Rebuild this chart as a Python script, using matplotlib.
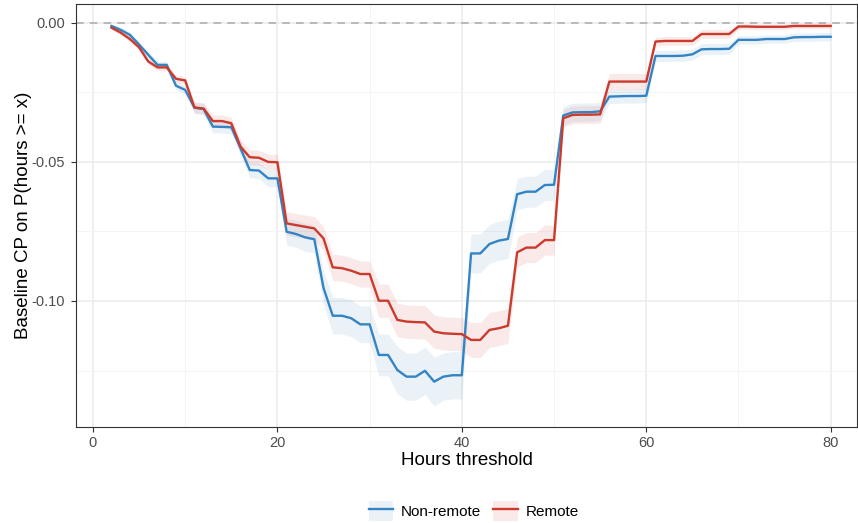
import numpy as np
import matplotlib
matplotlib.use("Agg")
import matplotlib.pyplot as plt
from matplotlib.patches import Patch
from matplotlib.lines import Line2D

plt.rcParams["font.family"] = ["Liberation Sans", "DejaVu Sans"]

hours = list(range(2, 81))

# baseline CP estimates, non-remote workers
nonremote = [
    -0.0011, -0.0025, -0.0043, -0.0078, -0.0115, -0.0151, -0.0151, -0.0226, -0.0241,
    -0.0305, -0.0310, -0.0373, -0.0374, -0.0375, -0.0451, -0.0529, -0.0531, -0.0559, -0.0559,
    -0.0751, -0.0759, -0.0771, -0.0778, -0.0953, -0.1053, -0.1053, -0.1062, -0.1084, -0.1084,
    -0.1194, -0.1194, -0.1248, -0.1272, -0.1272, -0.1251, -0.1290, -0.1272, -0.1267, -0.1267,
    -0.0829, -0.0829, -0.0795, -0.0783, -0.0777, -0.0616, -0.0607, -0.0607, -0.0583, -0.0582,
    -0.0333, -0.0322, -0.0321, -0.0321, -0.0318, -0.0265, -0.0264, -0.0263, -0.0263, -0.0262,
    -0.0119, -0.0119, -0.0119, -0.0118, -0.0113, -0.0095, -0.0094, -0.0094, -0.0093,
    -0.0061, -0.0061, -0.0061, -0.0058, -0.0058, -0.0058, -0.0052, -0.0051, -0.0051, -0.0050,
    -0.0050,
]
nonremote_ci = [
    0.0008, 0.0009, 0.0010, 0.0011, 0.0012, 0.0013, 0.0013, 0.0015, 0.0015,
    0.0020, 0.0020, 0.0022, 0.0022, 0.0023, 0.0026, 0.0028, 0.0028, 0.0030, 0.0030,
    0.0048, 0.0048, 0.0050, 0.0050, 0.0060, 0.0066, 0.0066, 0.0066, 0.0066, 0.0066,
    0.0075, 0.0075, 0.0085, 0.0085, 0.0085, 0.0085, 0.0088, 0.0085, 0.0085, 0.0085,
    0.0070, 0.0070, 0.0070, 0.0070, 0.0070, 0.0056, 0.0056, 0.0056, 0.0056, 0.0056,
    0.0033, 0.0033, 0.0033, 0.0033, 0.0033, 0.0025, 0.0025, 0.0025, 0.0025, 0.0025,
    0.0020, 0.0020, 0.0020, 0.0020, 0.0020, 0.0020, 0.0020, 0.0020, 0.0020,
    0.0015, 0.0015, 0.0015, 0.0015, 0.0015, 0.0015, 0.0015, 0.0015, 0.0015, 0.0015,
    0.0015,
]

# baseline CP estimates, remote workers
remote = [
    -0.0017, -0.0035, -0.0058, -0.0088, -0.0139, -0.0160, -0.0160, -0.0201, -0.0207,
    -0.0304, -0.0308, -0.0353, -0.0353, -0.0361, -0.0445, -0.0483, -0.0485, -0.0500, -0.0501,
    -0.0721, -0.0727, -0.0733, -0.0739, -0.0775, -0.0879, -0.0882, -0.0891, -0.0903, -0.0903,
    -0.0999, -0.0999, -0.1068, -0.1074, -0.1076, -0.1077, -0.1110, -0.1116, -0.1118, -0.1119,
    -0.1140, -0.1140, -0.1104, -0.1098, -0.1089, -0.0825, -0.0808, -0.0808, -0.0781, -0.0781,
    -0.0343, -0.0331, -0.0330, -0.0330, -0.0329, -0.0211, -0.0211, -0.0211, -0.0211, -0.0211,
    -0.0067, -0.0065, -0.0065, -0.0065, -0.0065, -0.0040, -0.0040, -0.0040, -0.0040,
    -0.0013, -0.0013, -0.0014, -0.0014, -0.0014, -0.0014, -0.0011, -0.0011, -0.0011, -0.0011,
    -0.0011,
]
remote_ci = [
    0.0008, 0.0009, 0.0010, 0.0011, 0.0012, 0.0012, 0.0012, 0.0013, 0.0013,
    0.0020, 0.0020, 0.0022, 0.0022, 0.0022, 0.0025, 0.0027, 0.0027, 0.0028, 0.0028,
    0.0042, 0.0042, 0.0042, 0.0042, 0.0042, 0.0047, 0.0047, 0.0047, 0.0047, 0.0047,
    0.0060, 0.0060, 0.0060, 0.0060, 0.0060, 0.0060, 0.0060, 0.0060, 0.0060, 0.0060,
    0.0063, 0.0063, 0.0063, 0.0063, 0.0063, 0.0054, 0.0054, 0.0054, 0.0054, 0.0054,
    0.0032, 0.0032, 0.0032, 0.0032, 0.0032, 0.0029, 0.0029, 0.0029, 0.0029, 0.0029,
    0.0016, 0.0016, 0.0016, 0.0016, 0.0016, 0.0016, 0.0016, 0.0016, 0.0016,
    0.0010, 0.0010, 0.0010, 0.0010, 0.0010, 0.0010, 0.0010, 0.0010, 0.0010, 0.0010,
    0.0010,
]

series = [
    ("Non-remote", nonremote, nonremote_ci, "#3484C4"),
    ("Remote", remote, remote_ci, "#CB3A2C"),
]

fig = plt.figure(figsize=(8.58, 5.23), dpi=100)
ax = fig.add_axes([0.0886, 0.1836, 0.9102, 0.8088])

ax.axhline(0, color="#ABABAB", lw=1.1, ls=(0, (5, 4)), zorder=1)

handles = []
for name, est, ci, col in series:
    est = np.array(est)
    ci = np.array(ci)
    ax.fill_between(hours, est - ci, est + ci, color=col, alpha=0.1, lw=0, zorder=2)
    ax.plot(hours, est, color=col, lw=1.7, zorder=3)
    handles.append((Patch(facecolor=col, alpha=0.1, lw=0), Line2D([], [], color=col, lw=1.7)))

ax.set_xlim(-1.84, 82.85)
ax.set_ylim(-0.1453, 0.0068)
ax.set_xticks([0, 20, 40, 60, 80])
ax.set_xticks([10, 30, 50, 70], minor=True)
ax.set_yticks([0.0, -0.05, -0.10])
ax.set_yticks([-0.025, -0.075, -0.125], minor=True)
ax.set_yticklabels(["0.00", "-0.05", "-0.10"])

ax.grid(which="major", color="#EBEBEB", lw=1.1, zorder=0)
ax.grid(which="minor", color="#F3F3F3", lw=0.6, zorder=0)
ax.set_axisbelow(True)
for s in ax.spines.values():
    s.set_color("#333333")
    s.set_linewidth(0.8)
ax.tick_params(which="major", length=3.5, width=0.8, color="#333333",
               labelsize=10.5, labelcolor="#4D4D4D", pad=3)
ax.tick_params(axis="y", which="major", pad=4.5)
ax.tick_params(which="minor", length=0)

ax.set_xlabel("Hours threshold", fontsize=13.5)
ax.set_ylabel("Baseline CP on P(hours >= x)", fontsize=13.5)
ax.xaxis.set_label_coords(0.5, -0.059)
ax.yaxis.set_label_coords(-0.057, 0.5)

fig.legend(handles, [s[0] for s in series], loc="center", ncol=2,
           bbox_to_anchor=(0.552, 0.023), frameon=False, fontsize=11,
           handlelength=1.6, handleheight=1.6, columnspacing=0.8, handletextpad=0.5)

fig.savefig("out.png", dpi=100)
